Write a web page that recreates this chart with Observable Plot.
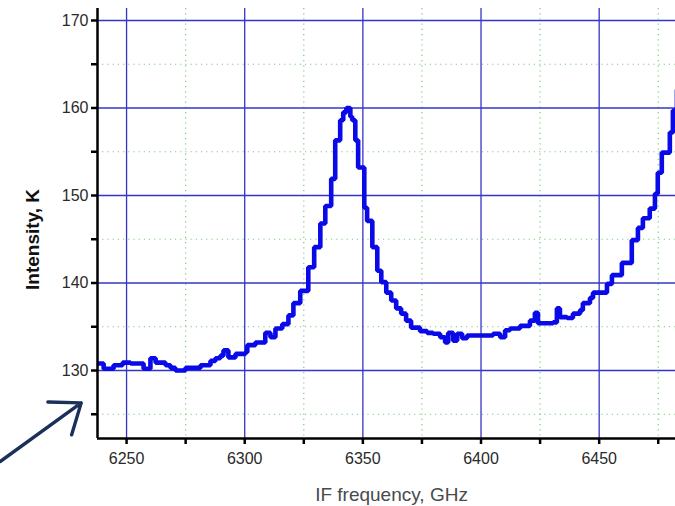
<!DOCTYPE html>
<html>
<head>
<meta charset="utf-8">
<script src="https://cdn.jsdelivr.net/npm/d3@7"></script>
<script src="https://cdn.jsdelivr.net/npm/@observablehq/plot@0.6"></script>
<style>
  html, body { margin: 0; padding: 0; background: #ffffff; }
  #chart svg { display: block; font-family: "Liberation Sans", Arial, sans-serif; }
</style>
</head>
<body>
<div id="chart"></div>
<script>
// IF frequency (GHz) at the start of each step
const freq = [
  6238.2, 6240.3, 6244.5, 6248.3, 6251.7, 6257.2, 6260.1, 6262.3, 6266.5, 6268.6,
  6270.7, 6274.9, 6281.3, 6285.5, 6287.6, 6289.7, 6291.0, 6293.1, 6296.1, 6300.3,
  6301.1, 6304.5, 6308.7, 6310.9, 6313.0, 6315.9, 6318.5, 6320.6, 6323.5, 6326.9,
  6329.4, 6332.0, 6334.1, 6336.6, 6338.3, 6340.4, 6341.7, 6343.0, 6344.7, 6345.5,
  6346.8, 6348.0, 6350.6, 6351.8, 6354.0, 6356.1, 6357.8, 6359.9, 6362.0, 6364.1,
  6366.2, 6368.3, 6370.4, 6374.2, 6377.2, 6379.7, 6382.7, 6384.8, 6386.1, 6388.2,
  6389.9, 6392.0, 6394.1, 6405.1, 6408.1, 6410.2, 6412.3, 6416.5, 6420.7, 6422.8,
  6424.1, 6430.5, 6432.1, 6433.4, 6436.4, 6438.9, 6441.9, 6443.1, 6446.1, 6447.4,
  6453.3, 6455.4, 6459.6, 6463.8, 6466.4, 6468.5, 6471.4, 6473.6, 6474.8, 6476.5,
  6479.9, 6481.2, 6482.9
];
// Intensity (K) for each step
const intensity = [
  130.8, 130.2, 130.6, 130.9, 130.8, 130.2, 131.4, 130.9, 130.6, 130.3,
  130.0, 130.3, 130.6, 131.1, 131.4, 131.7, 132.3, 131.5, 131.9, 132.1,
  132.9, 133.2, 134.3, 133.8, 134.8, 135.3, 136.3, 137.7, 139.1, 141.8,
  144.1, 146.8, 148.8, 151.9, 156.3, 158.6, 159.5, 160.0, 159.0, 158.6,
  156.3, 153.2, 148.6, 147.1, 144.1, 141.4, 140.1, 138.9, 138.0, 137.1,
  136.5, 135.7, 134.9, 134.5, 134.3, 134.2, 133.8, 133.2, 134.3, 133.4,
  134.2, 133.7, 134.0, 134.2, 133.8, 134.6, 134.8, 135.1, 135.7, 136.6,
  135.4, 135.5, 137.1, 136.1, 136.0, 136.5, 136.9, 137.7, 138.3, 138.9,
  139.9, 140.9, 142.3, 144.9, 146.3, 147.4, 148.5, 150.2, 152.6, 154.9,
  157.2, 159.7, 162.0
];

const majorX = [6250, 6300, 6350, 6400, 6450];
const minorX = [6275, 6325, 6375, 6425, 6475];
const majorY = [130, 140, 150, 160, 170];
const minorY = [125, 135, 145, 155, 165];
const xDomain = [6237.7, 6482.3];
const yDomain = [122.23, 171.37];
const xTitle = "IF frequency, GHz";
const yTitle = "Intensity, K";
// annotation arrow (data coordinates, outside the frame)
const arrowData = [{x1: 6196.5, y1: 119.6, x2: 6230.8, y2: 126.3}];

const data = freq.map((f, i) => ({f, v: intensity[i]}));

const gridBlue = "#3434c8";
const minorGreen = "#78cc78";

const chart = Plot.plot({
  width: 675,
  height: 506,
  marginLeft: 97,
  marginRight: 0,
  marginTop: 8,
  marginBottom: 68,
  x: {domain: xDomain, axis: null},
  y: {domain: yDomain, axis: null},
  style: {background: "#ffffff", color: "#222", fontSize: "16px", overflow: "visible"},
  marks: [
    Plot.gridX(minorX, {stroke: minorGreen, strokeOpacity: 1, strokeWidth: 1.2, strokeDasharray: "1.2,4"}),
    Plot.gridY(minorY, {stroke: minorGreen, strokeOpacity: 1, strokeWidth: 1.2, strokeDasharray: "1.2,4"}),
    Plot.gridX(majorX, {stroke: gridBlue, strokeOpacity: 1, strokeWidth: 1.3}),
    Plot.gridY(majorY, {stroke: gridBlue, strokeOpacity: 1, strokeWidth: 1.3}),
    Plot.line(data, {x: "f", y: "v", curve: "step-after", stroke: "#0a0ae8", strokeWidth: 4.6, strokeLinejoin: "miter", clip: true}),
    Plot.ruleX([xDomain[0]], {stroke: "#000", strokeWidth: 2.5}),
    Plot.ruleY([yDomain[0]], {stroke: "#000", strokeWidth: 2.5}),
    Plot.axisX(minorX, {tickSize: 6, strokeWidth: 2.5, stroke: "#000", tickFormat: () => ""}),
    Plot.axisX(majorX, {tickSize: 6, tickPadding: 8, strokeWidth: 2.5, stroke: "#000", tickFormat: d => String(d), fill: "#2a2a2a", fontSize: 16}),
    Plot.axisY(minorY, {tickSize: 6, strokeWidth: 2.5, stroke: "#000", tickFormat: () => ""}),
    Plot.axisY(majorY, {tickSize: 6, tickPadding: 3, strokeWidth: 2.5, stroke: "#000", tickFormat: d => String(d), fill: "#2a2a2a", fontSize: 16}),
    Plot.text([xTitle], {frameAnchor: "bottom", dx: 5, dy: 62, lineAnchor: "bottom", fontSize: 19, fill: "#4a4a4a"}),
    Plot.text([yTitle], {frameAnchor: "left", dx: -65, dy: 16, rotate: -90, textAnchor: "middle", lineAnchor: "middle", fontSize: 19, fontWeight: "bold", fill: "#111"}),
    Plot.arrow(arrowData, {x1: "x1", y1: "y1", x2: "x2", y2: "y2", stroke: "#1a2f5a", strokeWidth: 3.4, headLength: 16, headAngle: 75, clip: false})
  ]
});
document.getElementById("chart").appendChild(chart);
</script>
</body>
</html>
